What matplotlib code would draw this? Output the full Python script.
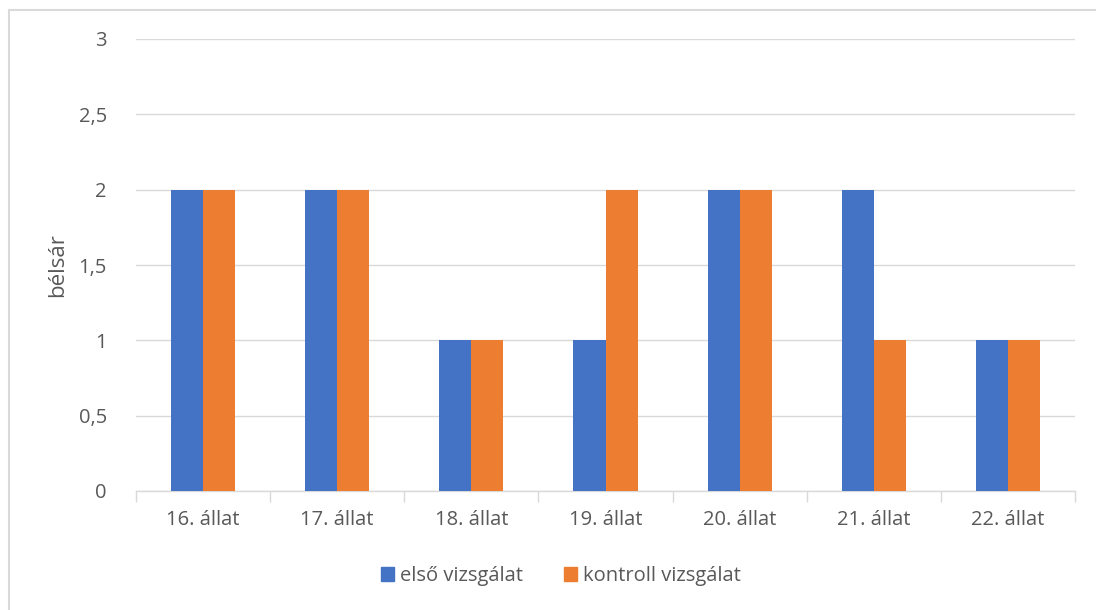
import matplotlib
matplotlib.use("Agg")
import matplotlib.pyplot as plt
from matplotlib.patches import Rectangle, Patch
import numpy as np

categories = ["16. állat", "17. állat", "18. állat", "19. állat", "20. állat", "21. állat", "22. állat"]
elso = [2, 2, 1, 1, 2, 2, 1]
kontroll = [2, 2, 1, 2, 2, 1, 1]
series_names = ["első vizsgálat", "kontroll vizsgálat"]
y_label = "bélsár"

plt.rcParams['font.family'] = ['Open Sans', 'DejaVu Sans']
txt = "#595959"
grid = "#d9d9d9"
blue = "#4472c4"
orange = "#ed7d31"

W, H = 1096, 610
fig = plt.figure(figsize=(W/100, H/100), dpi=100)
ax = fig.add_axes([136/W, 1-491/H, (1075-136)/W, (491-39)/H])

x = np.arange(len(categories))
bw = 0.239
ax.bar(x - bw/2, elso, bw, color=blue, label=series_names[0], zorder=3)
ax.bar(x + bw/2, kontroll, bw, color=orange, label=series_names[1], zorder=3)

fs = 14.5
ax.set_xlim(-0.5, len(categories) - 0.5)
ax.set_ylim(0, 3)
ax.set_yticks([0, 0.5, 1, 1.5, 2, 2.5, 3])
ax.set_yticklabels(["0", "0,5", "1", "1,5", "2", "2,5", "3"])
ax.set_xticks(x)
ax.set_xticklabels(categories)
ax.set_xticks(np.arange(-0.5, len(categories)), minor=True)
ax.tick_params(axis='x', which='major', length=0, pad=14, labelsize=fs, colors=txt)
ax.tick_params(axis='x', which='minor', length=8, width=1, color=grid)
ax.tick_params(axis='y', length=0, pad=21, labelsize=fs, colors=txt)
ax.yaxis.grid(True, color=grid, linewidth=1, zorder=0)
for s in ['top', 'right', 'left']:
    ax.spines[s].set_visible(False)
ax.spines['bottom'].set_color(grid)
ax.spines['bottom'].set_linewidth(1)
ax.set_ylabel(y_label, fontsize=16, color=txt, va='center')
ax.yaxis.set_label_coords(-(136-58)/(1075-136), 0.5)

handles = [Patch(color=blue), Patch(color=orange)]
fig.legend(handles, series_names, loc='center', bbox_to_anchor=(561/W, 1-576/H),
           ncol=2, frameon=False, fontsize=fs, labelcolor=txt,
           handlelength=0.65, handleheight=0.65, handletextpad=0.3, columnspacing=2.0)

fig.patches.append(Rectangle((9/W, -0.1), 1.2, 1 - 10/H + 0.1, transform=fig.transFigure,
                             fill=False, edgecolor=grid, linewidth=1.5))

fig.savefig("out.png", dpi=100)
